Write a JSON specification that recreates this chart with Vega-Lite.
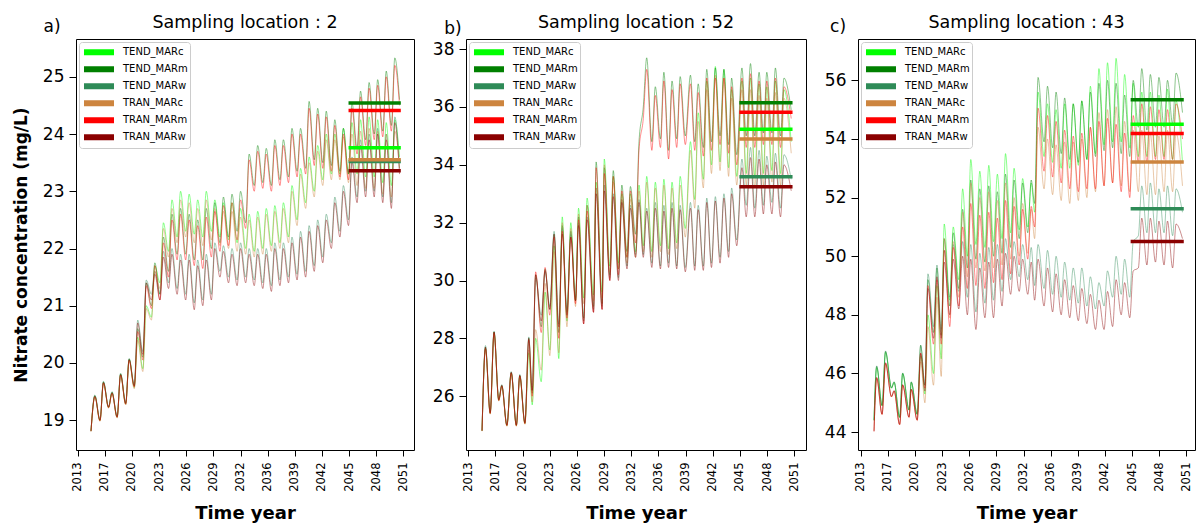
{
"$schema": "https://vega.github.io/schema/vega-lite/v6.json",
"padding": {"left": 11, "top": 13, "right": 0, "bottom": 0},
"bounds": "flush",
"config": {
 "font": "DejaVu Sans",
 "view": {"stroke": "#000", "strokeWidth": 1},
 "axis": {"grid": false, "domain": false, "tickColor": "#000", "labelColor": "#000", "titleColor": "#000", "tickWidth": 1, "labelFlush": false},
 "axisX": {"labelFontSize": 11.5, "labelAngle": -90, "tickSize": 6, "labelPadding": 6, "titleFontSize": 18, "titleFontWeight": "bold", "titlePadding": 13, "labelOverlap": false},
 "axisY": {"labelFontSize": 17, "tickSize": 7, "labelPadding": 5, "titleFontSize": 17, "titleFontWeight": "bold", "titlePadding": 12, "format": "d"},
 "legend": {"orient": "top-left", "offset": 3, "padding": 2, "fillColor": "#ffffff", "strokeColor": "#cccccc", "cornerRadius": 3, "symbolType": "stroke", "symbolSize": 900, "symbolStrokeWidth": 6, "symbolOpacity": 1, "clipHeight": 16.5, "labelFontSize": 10, "labelOffset": 6, "rowPadding": 0, "labelColor": "#000"}
},
"datasets": {
"pa": [
{"t":2014.55,"TEND_MARc":18.81,"TEND_MARm":18.81,"TEND_MARw":18.82,"TRAN_MARc":18.8,"TRAN_MARm":18.81,"TRAN_MARw":18.81},
{"t":2015.0,"TEND_MARc":19.42,"TEND_MARm":19.43,"TEND_MARw":19.44,"TRAN_MARc":19.4,"TRAN_MARm":19.41,"TRAN_MARw":19.42},
{"t":2015.6,"TEND_MARc":18.99,"TEND_MARm":19.0,"TEND_MARw":19.01,"TRAN_MARc":18.98,"TRAN_MARm":18.99,"TRAN_MARw":19.0},
{"t":2016.0,"TEND_MARc":19.66,"TEND_MARm":19.67,"TEND_MARw":19.68,"TRAN_MARc":19.64,"TRAN_MARm":19.65,"TRAN_MARw":19.66},
{"t":2016.6,"TEND_MARc":19.22,"TEND_MARm":19.23,"TEND_MARw":19.24,"TRAN_MARc":19.21,"TRAN_MARm":19.22,"TRAN_MARw":19.23},
{"t":2017.0,"TEND_MARc":19.48,"TEND_MARm":19.49,"TEND_MARw":19.5,"TRAN_MARc":19.46,"TRAN_MARm":19.47,"TRAN_MARw":19.48},
{"t":2017.6,"TEND_MARc":19.05,"TEND_MARm":19.06,"TEND_MARw":19.07,"TRAN_MARc":19.04,"TRAN_MARm":19.05,"TRAN_MARw":19.06},
{"t":2018.0,"TEND_MARc":19.8,"TEND_MARm":19.81,"TEND_MARw":19.82,"TRAN_MARc":19.78,"TRAN_MARm":19.79,"TRAN_MARw":19.8},
{"t":2018.6,"TEND_MARc":19.28,"TEND_MARm":19.3,"TEND_MARw":19.31,"TRAN_MARc":19.27,"TRAN_MARm":19.28,"TRAN_MARw":19.29},
{"t":2019.0,"TEND_MARc":20.06,"TEND_MARm":20.07,"TEND_MARw":20.08,"TRAN_MARc":20.03,"TRAN_MARm":20.05,"TRAN_MARw":20.06},
{"t":2019.6,"TEND_MARc":19.57,"TEND_MARm":19.6,"TEND_MARw":19.62,"TRAN_MARc":19.55,"TRAN_MARm":19.58,"TRAN_MARw":19.6},
{"t":2020.0,"TEND_MARc":20.45,"TEND_MARm":20.6,"TEND_MARw":20.75,"TRAN_MARc":20.4,"TRAN_MARm":20.55,"TRAN_MARw":20.7},
{"t":2020.6,"TEND_MARc":19.9,"TEND_MARm":20.1,"TEND_MARw":20.2,"TRAN_MARc":19.85,"TRAN_MARm":20.05,"TRAN_MARw":20.15},
{"t":2021.0,"TEND_MARc":21.0,"TEND_MARm":21.4,"TEND_MARw":21.45,"TRAN_MARc":20.95,"TRAN_MARm":21.35,"TRAN_MARw":21.4},
{"t":2021.6,"TEND_MARc":20.8,"TEND_MARm":21.0,"TEND_MARw":21.2,"TRAN_MARc":20.75,"TRAN_MARm":20.95,"TRAN_MARw":21.1},
{"t":2022.0,"TEND_MARc":21.7,"TEND_MARm":21.75,"TEND_MARw":21.6,"TRAN_MARc":21.6,"TRAN_MARm":21.7,"TRAN_MARw":21.55},
{"t":2022.6,"TEND_MARc":21.4,"TEND_MARm":21.2,"TEND_MARw":21.2,"TRAN_MARc":21.3,"TRAN_MARm":21.1,"TRAN_MARw":21.1},
{"t":2023.0,"TEND_MARc":22.45,"TEND_MARm":22.2,"TEND_MARw":21.95,"TRAN_MARc":22.35,"TRAN_MARm":22.1,"TRAN_MARw":21.85},
{"t":2023.6,"TEND_MARc":21.95,"TEND_MARm":21.6,"TEND_MARw":21.4,"TRAN_MARc":21.85,"TRAN_MARm":21.5,"TRAN_MARw":21.3},
{"t":2024.0,"TEND_MARc":22.85,"TEND_MARm":22.6,"TEND_MARw":22.0,"TRAN_MARc":22.7,"TRAN_MARm":22.5,"TRAN_MARw":21.9},
{"t":2024.6,"TEND_MARc":22.2,"TEND_MARm":21.9,"TEND_MARw":21.3,"TRAN_MARc":22.1,"TRAN_MARm":21.8,"TRAN_MARw":21.2},
{"t":2025.0,"TEND_MARc":23.0,"TEND_MARm":22.7,"TEND_MARw":21.9,"TRAN_MARc":22.85,"TRAN_MARm":22.6,"TRAN_MARw":21.8},
{"t":2025.6,"TEND_MARc":22.3,"TEND_MARm":21.9,"TEND_MARw":21.2,"TRAN_MARc":22.2,"TRAN_MARm":21.8,"TRAN_MARw":21.1},
{"t":2026.0,"TEND_MARc":22.95,"TEND_MARm":22.6,"TEND_MARw":21.9,"TRAN_MARc":22.8,"TRAN_MARm":22.5,"TRAN_MARw":21.8},
{"t":2026.6,"TEND_MARc":22.25,"TEND_MARm":21.8,"TEND_MARw":21.05,"TRAN_MARc":22.1,"TRAN_MARm":21.7,"TRAN_MARw":20.93},
{"t":2027.0,"TEND_MARc":22.85,"TEND_MARm":22.5,"TEND_MARw":21.8,"TRAN_MARc":22.7,"TRAN_MARm":22.4,"TRAN_MARw":21.7},
{"t":2027.6,"TEND_MARc":22.2,"TEND_MARm":21.8,"TEND_MARw":21.1,"TRAN_MARc":22.05,"TRAN_MARm":21.65,"TRAN_MARw":21.0},
{"t":2028.0,"TEND_MARc":23.0,"TEND_MARm":22.7,"TEND_MARw":21.9,"TRAN_MARc":22.85,"TRAN_MARm":22.55,"TRAN_MARw":21.8},
{"t":2028.6,"TEND_MARc":22.3,"TEND_MARm":22.0,"TEND_MARw":21.2,"TRAN_MARc":22.15,"TRAN_MARm":21.85,"TRAN_MARw":21.1},
{"t":2029.0,"TEND_MARc":22.85,"TEND_MARm":22.8,"TEND_MARw":22.1,"TRAN_MARc":22.7,"TRAN_MARm":22.65,"TRAN_MARw":22.0},
{"t":2029.6,"TEND_MARc":22.2,"TEND_MARm":22.1,"TEND_MARw":21.6,"TRAN_MARc":22.05,"TRAN_MARm":21.95,"TRAN_MARw":21.5},
{"t":2030.0,"TEND_MARc":22.8,"TEND_MARm":22.9,"TEND_MARw":22.05,"TRAN_MARc":22.65,"TRAN_MARm":22.75,"TRAN_MARw":21.95},
{"t":2030.6,"TEND_MARc":22.15,"TEND_MARm":22.2,"TEND_MARw":21.5,"TRAN_MARc":22.0,"TRAN_MARm":22.05,"TRAN_MARw":21.4},
{"t":2031.0,"TEND_MARc":22.8,"TEND_MARm":22.95,"TEND_MARw":22.0,"TRAN_MARc":22.65,"TRAN_MARm":22.8,"TRAN_MARw":21.9},
{"t":2031.6,"TEND_MARc":22.1,"TEND_MARm":22.3,"TEND_MARw":21.45,"TRAN_MARc":21.95,"TRAN_MARm":22.15,"TRAN_MARw":21.35},
{"t":2032.0,"TEND_MARc":22.7,"TEND_MARm":23.0,"TEND_MARw":22.1,"TRAN_MARc":22.55,"TRAN_MARm":22.85,"TRAN_MARw":22.0},
{"t":2032.6,"TEND_MARc":22.0,"TEND_MARm":22.45,"TEND_MARw":21.5,"TRAN_MARc":21.9,"TRAN_MARm":22.35,"TRAN_MARw":21.4},
{"t":2033.0,"TEND_MARc":22.6,"TEND_MARm":23.65,"TEND_MARw":22.0,"TRAN_MARc":22.5,"TRAN_MARm":23.55,"TRAN_MARw":21.9},
{"t":2033.6,"TEND_MARc":21.95,"TEND_MARm":23.1,"TEND_MARw":21.45,"TRAN_MARc":21.85,"TRAN_MARm":23.0,"TRAN_MARw":21.35},
{"t":2034.0,"TEND_MARc":22.65,"TEND_MARm":23.8,"TEND_MARw":22.0,"TRAN_MARc":22.55,"TRAN_MARm":23.7,"TRAN_MARw":21.9},
{"t":2034.6,"TEND_MARc":22.0,"TEND_MARm":23.15,"TEND_MARw":21.4,"TRAN_MARc":21.9,"TRAN_MARm":23.05,"TRAN_MARw":21.3},
{"t":2035.0,"TEND_MARc":22.7,"TEND_MARm":23.75,"TEND_MARw":22.0,"TRAN_MARc":22.6,"TRAN_MARm":23.65,"TRAN_MARw":21.9},
{"t":2035.6,"TEND_MARc":22.05,"TEND_MARm":23.1,"TEND_MARw":21.35,"TRAN_MARc":21.95,"TRAN_MARm":23.0,"TRAN_MARw":21.25},
{"t":2036.0,"TEND_MARc":22.75,"TEND_MARm":23.9,"TEND_MARw":22.1,"TRAN_MARc":22.65,"TRAN_MARm":23.8,"TRAN_MARw":22.0},
{"t":2036.6,"TEND_MARc":22.1,"TEND_MARm":23.2,"TEND_MARw":21.45,"TRAN_MARc":22.0,"TRAN_MARm":23.1,"TRAN_MARw":21.35},
{"t":2037.0,"TEND_MARc":22.8,"TEND_MARm":23.9,"TEND_MARw":22.1,"TRAN_MARc":22.7,"TRAN_MARm":23.8,"TRAN_MARw":22.0},
{"t":2037.6,"TEND_MARc":22.2,"TEND_MARm":23.25,"TEND_MARw":21.5,"TRAN_MARc":22.1,"TRAN_MARm":23.15,"TRAN_MARw":21.4},
{"t":2038.0,"TEND_MARc":23.1,"TEND_MARm":24.1,"TEND_MARw":22.2,"TRAN_MARc":23.0,"TRAN_MARm":24.0,"TRAN_MARw":22.1},
{"t":2038.6,"TEND_MARc":22.5,"TEND_MARm":23.35,"TEND_MARw":21.55,"TRAN_MARc":22.4,"TRAN_MARm":23.25,"TRAN_MARw":21.45},
{"t":2039.0,"TEND_MARc":23.4,"TEND_MARm":24.1,"TEND_MARw":22.3,"TRAN_MARc":23.3,"TRAN_MARm":24.0,"TRAN_MARw":22.2},
{"t":2039.6,"TEND_MARc":22.8,"TEND_MARm":23.4,"TEND_MARw":21.6,"TRAN_MARc":22.7,"TRAN_MARm":23.3,"TRAN_MARw":21.5},
{"t":2040.0,"TEND_MARc":23.6,"TEND_MARm":24.57,"TEND_MARw":22.4,"TRAN_MARc":23.5,"TRAN_MARm":24.45,"TRAN_MARw":22.3},
{"t":2040.6,"TEND_MARc":23.0,"TEND_MARm":23.55,"TEND_MARw":21.7,"TRAN_MARc":22.9,"TRAN_MARm":23.45,"TRAN_MARw":21.6},
{"t":2041.0,"TEND_MARc":23.8,"TEND_MARm":24.45,"TEND_MARw":22.5,"TRAN_MARc":23.7,"TRAN_MARm":24.35,"TRAN_MARw":22.4},
{"t":2041.6,"TEND_MARc":23.2,"TEND_MARm":23.5,"TEND_MARw":21.85,"TRAN_MARc":23.1,"TRAN_MARm":23.4,"TRAN_MARw":21.75},
{"t":2042.0,"TEND_MARc":24.0,"TEND_MARm":24.4,"TEND_MARw":22.6,"TRAN_MARc":23.9,"TRAN_MARm":24.3,"TRAN_MARw":22.5},
{"t":2042.6,"TEND_MARc":23.3,"TEND_MARm":23.45,"TEND_MARw":22.1,"TRAN_MARc":23.2,"TRAN_MARm":23.35,"TRAN_MARw":22.0},
{"t":2043.0,"TEND_MARc":24.0,"TEND_MARm":24.25,"TEND_MARw":22.9,"TRAN_MARc":23.9,"TRAN_MARm":24.15,"TRAN_MARw":22.8},
{"t":2043.6,"TEND_MARc":23.3,"TEND_MARm":23.35,"TEND_MARw":22.3,"TRAN_MARc":23.2,"TRAN_MARm":23.25,"TRAN_MARw":22.2},
{"t":2044.0,"TEND_MARc":24.1,"TEND_MARm":24.1,"TEND_MARw":23.1,"TRAN_MARc":23.95,"TRAN_MARm":24.0,"TRAN_MARw":23.0},
{"t":2044.6,"TEND_MARc":23.3,"TEND_MARm":23.3,"TEND_MARw":22.5,"TRAN_MARc":23.15,"TRAN_MARm":23.2,"TRAN_MARw":22.4},
{"t":2045.0,"TEND_MARc":24.2,"TEND_MARm":24.55,"TEND_MARw":23.6,"TRAN_MARc":24.0,"TRAN_MARm":24.45,"TRAN_MARw":23.5},
{"t":2045.6,"TEND_MARc":23.3,"TEND_MARm":23.75,"TEND_MARw":22.9,"TRAN_MARc":23.1,"TRAN_MARm":23.65,"TRAN_MARw":22.8},
{"t":2046.0,"TEND_MARc":24.25,"TEND_MARm":24.75,"TEND_MARw":23.9,"TRAN_MARc":24.05,"TRAN_MARm":24.65,"TRAN_MARw":23.8},
{"t":2046.6,"TEND_MARc":23.25,"TEND_MARm":23.9,"TEND_MARw":23.0,"TRAN_MARc":23.05,"TRAN_MARm":23.8,"TRAN_MARw":22.9},
{"t":2047.0,"TEND_MARc":24.3,"TEND_MARm":24.9,"TEND_MARw":24.0,"TRAN_MARc":24.1,"TRAN_MARm":24.8,"TRAN_MARw":23.9},
{"t":2047.6,"TEND_MARc":23.25,"TEND_MARm":24.0,"TEND_MARw":23.0,"TRAN_MARc":23.05,"TRAN_MARm":23.9,"TRAN_MARw":22.9},
{"t":2048.0,"TEND_MARc":24.25,"TEND_MARm":24.95,"TEND_MARw":24.1,"TRAN_MARc":24.05,"TRAN_MARm":24.85,"TRAN_MARw":24.0},
{"t":2048.6,"TEND_MARc":23.15,"TEND_MARm":24.05,"TEND_MARw":22.9,"TRAN_MARc":22.95,"TRAN_MARm":23.95,"TRAN_MARw":22.8},
{"t":2049.0,"TEND_MARc":24.2,"TEND_MARm":25.1,"TEND_MARw":24.0,"TRAN_MARc":24.0,"TRAN_MARm":25.0,"TRAN_MARw":23.9},
{"t":2049.6,"TEND_MARc":23.1,"TEND_MARm":24.15,"TEND_MARw":22.8,"TRAN_MARc":22.9,"TRAN_MARm":24.05,"TRAN_MARw":22.7},
{"t":2050.0,"TEND_MARc":24.25,"TEND_MARm":25.33,"TEND_MARw":24.3,"TRAN_MARc":24.05,"TRAN_MARm":25.2,"TRAN_MARw":24.2},
{"t":2050.55,"TEND_MARc":23.6,"TEND_MARm":24.6,"TEND_MARw":23.4,"TRAN_MARc":23.4,"TRAN_MARm":24.5,"TRAN_MARw":23.3}
],
"pb": [
{"t":2014.6,"TEND_MARc":24.8,"TEND_MARm":24.8,"TEND_MARw":24.82,"TRAN_MARc":24.79,"TRAN_MARm":24.8,"TRAN_MARw":24.81},
{"t":2015.0,"TEND_MARc":27.65,"TEND_MARm":27.7,"TEND_MARw":27.75,"TRAN_MARc":27.6,"TRAN_MARm":27.65,"TRAN_MARw":27.7},
{"t":2015.55,"TEND_MARc":25.4,"TEND_MARm":25.42,"TEND_MARw":25.45,"TRAN_MARc":25.38,"TRAN_MARm":25.4,"TRAN_MARw":25.43},
{"t":2016.0,"TEND_MARc":28.2,"TEND_MARm":28.22,"TEND_MARw":28.25,"TRAN_MARc":28.15,"TRAN_MARm":28.2,"TRAN_MARw":28.22},
{"t":2016.55,"TEND_MARc":25.85,"TEND_MARm":25.87,"TEND_MARw":25.9,"TRAN_MARc":25.83,"TRAN_MARm":25.85,"TRAN_MARw":25.88},
{"t":2016.9,"TEND_MARc":26.35,"TEND_MARm":26.37,"TEND_MARw":26.4,"TRAN_MARc":26.33,"TRAN_MARm":26.35,"TRAN_MARw":26.38},
{"t":2017.5,"TEND_MARc":24.98,"TEND_MARm":25.0,"TEND_MARw":25.02,"TRAN_MARc":24.96,"TRAN_MARm":24.98,"TRAN_MARw":25.0},
{"t":2018.0,"TEND_MARc":26.8,"TEND_MARm":26.82,"TEND_MARw":26.85,"TRAN_MARc":26.78,"TRAN_MARm":26.8,"TRAN_MARw":26.83},
{"t":2018.6,"TEND_MARc":24.98,"TEND_MARm":25.0,"TEND_MARw":25.02,"TRAN_MARc":24.96,"TRAN_MARm":24.98,"TRAN_MARw":25.0},
{"t":2019.0,"TEND_MARc":26.7,"TEND_MARm":26.72,"TEND_MARw":26.75,"TRAN_MARc":26.68,"TRAN_MARm":26.7,"TRAN_MARw":26.72},
{"t":2019.6,"TEND_MARc":25.05,"TEND_MARm":25.07,"TEND_MARw":25.1,"TRAN_MARc":25.03,"TRAN_MARm":25.05,"TRAN_MARw":25.08},
{"t":2020.05,"TEND_MARc":27.5,"TEND_MARm":28.0,"TEND_MARw":28.05,"TRAN_MARc":27.6,"TRAN_MARm":27.95,"TRAN_MARw":28.0},
{"t":2020.45,"TEND_MARc":25.7,"TEND_MARm":26.1,"TEND_MARw":26.2,"TRAN_MARc":25.8,"TRAN_MARm":26.0,"TRAN_MARw":26.2},
{"t":2020.85,"TEND_MARc":28.0,"TEND_MARm":30.2,"TEND_MARw":30.1,"TRAN_MARc":28.3,"TRAN_MARm":30.3,"TRAN_MARw":30.2},
{"t":2021.5,"TEND_MARc":26.5,"TEND_MARm":28.4,"TEND_MARw":28.8,"TRAN_MARc":26.9,"TRAN_MARm":28.2,"TRAN_MARw":28.6},
{"t":2021.95,"TEND_MARc":29.6,"TEND_MARm":30.4,"TEND_MARw":30.3,"TRAN_MARc":29.9,"TRAN_MARm":30.45,"TRAN_MARw":30.35},
{"t":2022.5,"TEND_MARc":27.6,"TEND_MARm":29.0,"TEND_MARw":29.1,"TRAN_MARc":27.4,"TRAN_MARm":28.8,"TRAN_MARw":29.0},
{"t":2023.0,"TEND_MARc":31.2,"TEND_MARm":31.6,"TEND_MARw":31.7,"TRAN_MARc":31.0,"TRAN_MARm":31.5,"TRAN_MARw":31.6},
{"t":2023.55,"TEND_MARc":27.3,"TEND_MARm":28.2,"TEND_MARw":28.5,"TRAN_MARc":27.5,"TRAN_MARm":28.0,"TRAN_MARw":28.4},
{"t":2023.95,"TEND_MARc":32.2,"TEND_MARm":31.9,"TEND_MARw":31.8,"TRAN_MARc":32.0,"TRAN_MARm":31.7,"TRAN_MARw":31.6},
{"t":2024.5,"TEND_MARc":28.6,"TEND_MARm":28.9,"TEND_MARw":29.0,"TRAN_MARc":28.4,"TRAN_MARm":28.7,"TRAN_MARw":28.8},
{"t":2024.95,"TEND_MARc":32.0,"TEND_MARm":31.7,"TEND_MARw":31.6,"TRAN_MARc":31.8,"TRAN_MARm":31.5,"TRAN_MARw":31.5},
{"t":2025.5,"TEND_MARc":29.3,"TEND_MARm":29.3,"TEND_MARw":29.4,"TRAN_MARc":29.1,"TRAN_MARm":29.2,"TRAN_MARw":29.3},
{"t":2025.85,"TEND_MARc":32.5,"TEND_MARm":32.2,"TEND_MARw":32.0,"TRAN_MARc":32.3,"TRAN_MARm":32.1,"TRAN_MARw":31.9},
{"t":2026.45,"TEND_MARc":29.4,"TEND_MARm":28.7,"TEND_MARw":28.6,"TRAN_MARc":29.2,"TRAN_MARm":28.5,"TRAN_MARw":28.5},
{"t":2026.85,"TEND_MARc":32.85,"TEND_MARm":32.6,"TEND_MARw":32.2,"TRAN_MARc":32.6,"TRAN_MARm":32.4,"TRAN_MARw":32.1},
{"t":2027.6,"TEND_MARc":29.5,"TEND_MARm":29.1,"TEND_MARw":29.0,"TRAN_MARc":29.3,"TRAN_MARm":28.9,"TRAN_MARw":28.9},
{"t":2027.9,"TEND_MARc":33.4,"TEND_MARm":34.1,"TEND_MARw":33.2,"TRAN_MARc":33.2,"TRAN_MARm":33.9,"TRAN_MARw":33.0},
{"t":2028.6,"TEND_MARc":29.6,"TEND_MARm":29.2,"TEND_MARw":29.1,"TRAN_MARc":29.4,"TRAN_MARm":29.0,"TRAN_MARw":29.0},
{"t":2028.85,"TEND_MARc":34.2,"TEND_MARm":33.9,"TEND_MARw":33.3,"TRAN_MARc":34.0,"TRAN_MARm":33.7,"TRAN_MARw":33.1},
{"t":2029.5,"TEND_MARc":30.5,"TEND_MARm":30.2,"TEND_MARw":30.1,"TRAN_MARc":30.3,"TRAN_MARm":30.0,"TRAN_MARw":30.0},
{"t":2029.9,"TEND_MARc":33.6,"TEND_MARm":33.8,"TEND_MARw":33.0,"TRAN_MARc":33.4,"TRAN_MARm":33.6,"TRAN_MARw":32.9},
{"t":2030.5,"TEND_MARc":30.6,"TEND_MARm":30.4,"TEND_MARw":30.1,"TRAN_MARc":30.4,"TRAN_MARm":30.2,"TRAN_MARw":30.0},
{"t":2030.9,"TEND_MARc":33.0,"TEND_MARm":33.3,"TEND_MARw":32.8,"TRAN_MARc":32.8,"TRAN_MARm":33.1,"TRAN_MARw":32.7},
{"t":2031.5,"TEND_MARc":30.8,"TEND_MARm":31.0,"TEND_MARw":30.5,"TRAN_MARc":30.6,"TRAN_MARm":30.8,"TRAN_MARw":30.4},
{"t":2031.9,"TEND_MARc":33.0,"TEND_MARm":33.25,"TEND_MARw":32.6,"TRAN_MARc":32.8,"TRAN_MARm":33.1,"TRAN_MARw":32.5},
{"t":2032.5,"TEND_MARc":31.0,"TEND_MARm":31.6,"TEND_MARw":30.9,"TRAN_MARc":30.8,"TRAN_MARm":31.3,"TRAN_MARw":30.8},
{"t":2032.9,"TEND_MARc":33.3,"TEND_MARm":34.8,"TEND_MARw":32.8,"TRAN_MARc":33.1,"TRAN_MARm":34.5,"TRAN_MARw":32.7},
{"t":2033.4,"TEND_MARc":31.2,"TEND_MARm":36.0,"TEND_MARw":30.9,"TRAN_MARc":31.0,"TRAN_MARm":35.6,"TRAN_MARw":30.8},
{"t":2033.8,"TEND_MARc":33.6,"TEND_MARm":37.7,"TEND_MARw":32.5,"TRAN_MARc":33.4,"TRAN_MARm":37.3,"TRAN_MARw":32.4},
{"t":2034.4,"TEND_MARc":31.0,"TEND_MARm":34.8,"TEND_MARw":30.6,"TRAN_MARc":30.8,"TRAN_MARm":34.5,"TRAN_MARw":30.45},
{"t":2034.8,"TEND_MARc":33.4,"TEND_MARm":36.7,"TEND_MARw":32.7,"TRAN_MARc":33.2,"TRAN_MARm":36.4,"TRAN_MARw":32.5},
{"t":2035.4,"TEND_MARc":31.2,"TEND_MARm":34.9,"TEND_MARw":30.5,"TRAN_MARc":31.0,"TRAN_MARm":34.6,"TRAN_MARw":30.4},
{"t":2035.8,"TEND_MARc":33.5,"TEND_MARm":37.2,"TEND_MARw":32.6,"TRAN_MARc":33.3,"TRAN_MARm":36.9,"TRAN_MARw":32.4},
{"t":2036.35,"TEND_MARc":31.1,"TEND_MARm":34.5,"TEND_MARw":30.6,"TRAN_MARc":30.9,"TRAN_MARm":34.2,"TRAN_MARw":30.45},
{"t":2036.75,"TEND_MARc":33.4,"TEND_MARm":36.9,"TEND_MARw":32.7,"TRAN_MARc":33.2,"TRAN_MARm":36.6,"TRAN_MARw":32.5},
{"t":2037.3,"TEND_MARc":31.3,"TEND_MARm":34.9,"TEND_MARw":30.5,"TRAN_MARc":31.1,"TRAN_MARm":34.6,"TRAN_MARw":30.4},
{"t":2037.7,"TEND_MARc":33.6,"TEND_MARm":37.05,"TEND_MARw":32.6,"TRAN_MARc":33.3,"TRAN_MARm":36.8,"TRAN_MARw":32.45},
{"t":2038.3,"TEND_MARc":31.8,"TEND_MARm":35.0,"TEND_MARw":30.45,"TRAN_MARc":31.5,"TRAN_MARm":34.7,"TRAN_MARw":30.3},
{"t":2038.9,"TEND_MARc":34.8,"TEND_MARm":37.1,"TEND_MARw":32.7,"TRAN_MARc":34.5,"TRAN_MARm":36.8,"TRAN_MARw":32.5},
{"t":2039.4,"TEND_MARc":32.8,"TEND_MARm":34.8,"TEND_MARw":30.5,"TRAN_MARc":32.5,"TRAN_MARm":34.5,"TRAN_MARw":30.35},
{"t":2039.8,"TEND_MARc":35.8,"TEND_MARm":36.8,"TEND_MARw":32.6,"TRAN_MARc":35.5,"TRAN_MARm":36.5,"TRAN_MARw":32.45},
{"t":2040.4,"TEND_MARc":33.5,"TEND_MARm":34.6,"TEND_MARw":30.5,"TRAN_MARc":33.2,"TRAN_MARm":34.3,"TRAN_MARw":30.35},
{"t":2040.8,"TEND_MARc":36.9,"TEND_MARm":37.3,"TEND_MARw":32.85,"TRAN_MARc":36.6,"TRAN_MARm":37.0,"TRAN_MARw":32.7},
{"t":2041.35,"TEND_MARc":34.0,"TEND_MARm":34.8,"TEND_MARw":30.6,"TRAN_MARc":33.7,"TRAN_MARm":34.5,"TRAN_MARw":30.45},
{"t":2041.8,"TEND_MARc":37.4,"TEND_MARm":37.35,"TEND_MARw":32.9,"TRAN_MARc":37.1,"TRAN_MARm":37.0,"TRAN_MARw":32.75},
{"t":2042.35,"TEND_MARc":34.1,"TEND_MARm":35.0,"TEND_MARw":30.8,"TRAN_MARc":33.8,"TRAN_MARm":34.7,"TRAN_MARw":30.6},
{"t":2042.8,"TEND_MARc":37.3,"TEND_MARm":37.3,"TEND_MARw":33.0,"TRAN_MARc":37.0,"TRAN_MARm":37.0,"TRAN_MARw":32.85},
{"t":2043.35,"TEND_MARc":33.9,"TEND_MARm":34.7,"TEND_MARw":31.0,"TRAN_MARc":33.6,"TRAN_MARm":34.4,"TRAN_MARw":30.8},
{"t":2043.7,"TEND_MARc":36.6,"TEND_MARm":37.0,"TEND_MARw":33.2,"TRAN_MARc":36.3,"TRAN_MARm":36.7,"TRAN_MARw":33.0},
{"t":2044.3,"TEND_MARc":33.6,"TEND_MARm":34.35,"TEND_MARw":31.4,"TRAN_MARc":33.3,"TRAN_MARm":34.0,"TRAN_MARw":31.2},
{"t":2044.9,"TEND_MARc":36.9,"TEND_MARm":37.35,"TEND_MARw":34.2,"TRAN_MARc":36.6,"TRAN_MARm":37.0,"TRAN_MARw":33.9},
{"t":2045.4,"TEND_MARc":33.7,"TEND_MARm":35.0,"TEND_MARw":32.6,"TRAN_MARc":33.3,"TRAN_MARm":34.6,"TRAN_MARw":32.2},
{"t":2045.9,"TEND_MARc":37.0,"TEND_MARm":37.5,"TEND_MARw":34.6,"TRAN_MARc":36.6,"TRAN_MARm":37.15,"TRAN_MARw":34.25},
{"t":2046.4,"TEND_MARc":33.6,"TEND_MARm":35.0,"TEND_MARw":32.5,"TRAN_MARc":33.2,"TRAN_MARm":34.6,"TRAN_MARw":32.2},
{"t":2046.9,"TEND_MARc":36.8,"TEND_MARm":37.2,"TEND_MARw":34.5,"TRAN_MARc":36.4,"TRAN_MARm":36.9,"TRAN_MARw":34.2},
{"t":2047.4,"TEND_MARc":33.7,"TEND_MARm":35.1,"TEND_MARw":32.6,"TRAN_MARc":33.3,"TRAN_MARm":34.7,"TRAN_MARw":32.3},
{"t":2047.8,"TEND_MARc":36.7,"TEND_MARm":37.2,"TEND_MARw":34.3,"TRAN_MARc":36.3,"TRAN_MARm":36.9,"TRAN_MARw":34.0},
{"t":2048.4,"TEND_MARc":33.8,"TEND_MARm":35.1,"TEND_MARw":32.7,"TRAN_MARc":33.4,"TRAN_MARm":34.7,"TRAN_MARw":32.3},
{"t":2048.8,"TEND_MARc":36.9,"TEND_MARm":37.35,"TEND_MARw":34.4,"TRAN_MARc":36.5,"TRAN_MARm":37.0,"TRAN_MARw":34.1},
{"t":2049.4,"TEND_MARc":33.7,"TEND_MARm":35.0,"TEND_MARw":32.5,"TRAN_MARc":33.3,"TRAN_MARm":34.6,"TRAN_MARw":32.2},
{"t":2049.8,"TEND_MARc":36.6,"TEND_MARm":37.0,"TEND_MARw":34.35,"TRAN_MARc":36.3,"TRAN_MARm":36.7,"TRAN_MARw":34.0},
{"t":2050.65,"TEND_MARc":34.8,"TEND_MARm":35.9,"TEND_MARw":33.5,"TRAN_MARc":34.4,"TRAN_MARm":35.6,"TRAN_MARw":33.1}
],
"pc": [
{"t":2014.56,"TEND_MARc":44.4,"TEND_MARm":44.4,"TEND_MARw":44.42,"TRAN_MARc":44.05,"TRAN_MARm":44.02,"TRAN_MARw":44.03},
{"t":2014.87,"TEND_MARc":46.2,"TEND_MARm":46.24,"TEND_MARw":46.26,"TRAN_MARc":45.82,"TRAN_MARm":45.85,"TRAN_MARw":45.87},
{"t":2015.5,"TEND_MARc":44.9,"TEND_MARm":44.9,"TEND_MARw":44.92,"TRAN_MARc":44.6,"TRAN_MARm":44.6,"TRAN_MARw":44.62},
{"t":2015.9,"TEND_MARc":46.72,"TEND_MARm":46.75,"TEND_MARw":46.77,"TRAN_MARc":46.33,"TRAN_MARm":46.35,"TRAN_MARw":46.37},
{"t":2016.6,"TEND_MARc":45.5,"TEND_MARm":45.5,"TEND_MARw":45.52,"TRAN_MARc":45.2,"TRAN_MARm":45.2,"TRAN_MARw":45.22},
{"t":2016.9,"TEND_MARc":45.7,"TEND_MARm":45.7,"TEND_MARw":45.72,"TRAN_MARc":45.4,"TRAN_MARm":45.4,"TRAN_MARw":45.42},
{"t":2017.55,"TEND_MARc":44.5,"TEND_MARm":44.5,"TEND_MARw":44.52,"TRAN_MARc":44.25,"TRAN_MARm":44.25,"TRAN_MARw":44.27},
{"t":2017.9,"TEND_MARc":46.0,"TEND_MARm":46.0,"TEND_MARw":46.02,"TRAN_MARc":45.6,"TRAN_MARm":45.6,"TRAN_MARw":45.62},
{"t":2018.65,"TEND_MARc":44.75,"TEND_MARm":44.75,"TEND_MARw":44.77,"TRAN_MARc":44.5,"TRAN_MARm":44.5,"TRAN_MARw":44.52},
{"t":2018.9,"TEND_MARc":45.7,"TEND_MARm":45.7,"TEND_MARw":45.72,"TRAN_MARc":45.45,"TRAN_MARm":45.45,"TRAN_MARw":45.47},
{"t":2019.6,"TEND_MARc":44.6,"TEND_MARm":44.6,"TEND_MARw":44.62,"TRAN_MARc":44.4,"TRAN_MARm":44.4,"TRAN_MARw":44.42},
{"t":2020.0,"TEND_MARc":46.6,"TEND_MARm":46.97,"TEND_MARw":46.95,"TRAN_MARc":46.4,"TRAN_MARm":46.7,"TRAN_MARw":46.68},
{"t":2020.5,"TEND_MARc":45.3,"TEND_MARm":45.6,"TEND_MARw":45.6,"TRAN_MARc":45.0,"TRAN_MARm":45.5,"TRAN_MARw":45.4},
{"t":2020.85,"TEND_MARc":48.0,"TEND_MARm":49.2,"TEND_MARw":49.4,"TRAN_MARc":47.6,"TRAN_MARm":49.0,"TRAN_MARw":48.9},
{"t":2021.5,"TEND_MARc":46.0,"TEND_MARm":47.4,"TEND_MARw":47.6,"TRAN_MARc":45.6,"TRAN_MARm":47.0,"TRAN_MARw":47.2},
{"t":2021.9,"TEND_MARc":49.0,"TEND_MARm":49.6,"TEND_MARw":49.7,"TRAN_MARc":48.6,"TRAN_MARm":49.2,"TRAN_MARw":49.3},
{"t":2022.4,"TEND_MARc":46.5,"TEND_MARm":47.3,"TEND_MARw":47.5,"TRAN_MARc":45.9,"TRAN_MARm":47.0,"TRAN_MARw":47.2},
{"t":2022.75,"TEND_MARc":51.1,"TEND_MARm":50.6,"TEND_MARw":50.2,"TRAN_MARc":50.6,"TRAN_MARm":50.2,"TRAN_MARw":49.8},
{"t":2023.4,"TEND_MARc":48.5,"TEND_MARm":48.3,"TEND_MARw":48.6,"TRAN_MARc":47.9,"TRAN_MARm":47.6,"TRAN_MARw":48.0},
{"t":2023.8,"TEND_MARc":51.0,"TEND_MARm":50.8,"TEND_MARw":50.4,"TRAN_MARc":50.5,"TRAN_MARm":50.3,"TRAN_MARw":49.9},
{"t":2024.45,"TEND_MARc":49.2,"TEND_MARm":48.9,"TEND_MARw":48.8,"TRAN_MARc":48.6,"TRAN_MARm":48.3,"TRAN_MARw":48.2},
{"t":2024.9,"TEND_MARc":52.3,"TEND_MARm":51.6,"TEND_MARw":50.5,"TRAN_MARc":51.5,"TRAN_MARm":51.0,"TRAN_MARw":50.0},
{"t":2025.45,"TEND_MARc":50.0,"TEND_MARm":49.6,"TEND_MARw":48.6,"TRAN_MARc":49.3,"TRAN_MARm":48.9,"TRAN_MARw":48.0},
{"t":2025.85,"TEND_MARc":53.3,"TEND_MARm":52.6,"TEND_MARw":50.4,"TRAN_MARc":52.5,"TRAN_MARm":51.8,"TRAN_MARw":49.9},
{"t":2026.45,"TEND_MARc":50.4,"TEND_MARm":49.9,"TEND_MARw":48.1,"TRAN_MARc":49.6,"TRAN_MARm":49.0,"TRAN_MARw":47.5},
{"t":2026.9,"TEND_MARc":52.9,"TEND_MARm":52.3,"TEND_MARw":50.1,"TRAN_MARc":52.0,"TRAN_MARm":51.4,"TRAN_MARw":49.6},
{"t":2027.5,"TEND_MARc":50.3,"TEND_MARm":49.8,"TEND_MARw":48.4,"TRAN_MARc":49.5,"TRAN_MARm":48.9,"TRAN_MARw":47.9},
{"t":2027.95,"TEND_MARc":53.1,"TEND_MARm":52.4,"TEND_MARw":50.3,"TRAN_MARc":52.2,"TRAN_MARm":51.5,"TRAN_MARw":49.8},
{"t":2028.5,"TEND_MARc":50.5,"TEND_MARm":50.0,"TEND_MARw":48.5,"TRAN_MARc":49.6,"TRAN_MARm":49.1,"TRAN_MARw":47.9},
{"t":2028.95,"TEND_MARc":52.8,"TEND_MARm":52.2,"TEND_MARw":50.4,"TRAN_MARc":51.9,"TRAN_MARm":51.3,"TRAN_MARw":49.9},
{"t":2029.5,"TEND_MARc":50.6,"TEND_MARm":50.1,"TEND_MARw":48.8,"TRAN_MARc":49.7,"TRAN_MARm":49.2,"TRAN_MARw":48.3},
{"t":2029.9,"TEND_MARc":53.5,"TEND_MARm":52.8,"TEND_MARw":50.6,"TRAN_MARc":52.5,"TRAN_MARm":51.9,"TRAN_MARw":50.1},
{"t":2030.5,"TEND_MARc":50.8,"TEND_MARm":50.3,"TEND_MARw":49.2,"TRAN_MARc":49.9,"TRAN_MARm":49.4,"TRAN_MARw":48.7},
{"t":2030.9,"TEND_MARc":53.0,"TEND_MARm":52.6,"TEND_MARw":50.5,"TRAN_MARc":52.0,"TRAN_MARm":51.7,"TRAN_MARw":50.0},
{"t":2031.5,"TEND_MARc":50.9,"TEND_MARm":50.6,"TEND_MARw":49.3,"TRAN_MARc":50.0,"TRAN_MARm":49.7,"TRAN_MARw":48.8},
{"t":2031.9,"TEND_MARc":52.65,"TEND_MARm":52.5,"TEND_MARw":50.4,"TRAN_MARc":51.8,"TRAN_MARm":51.6,"TRAN_MARw":49.9},
{"t":2032.5,"TEND_MARc":51.0,"TEND_MARm":50.8,"TEND_MARw":49.2,"TRAN_MARc":50.1,"TRAN_MARm":49.9,"TRAN_MARw":48.7},
{"t":2032.9,"TEND_MARc":52.5,"TEND_MARm":52.6,"TEND_MARw":50.3,"TRAN_MARc":51.6,"TRAN_MARm":51.7,"TRAN_MARw":49.8},
{"t":2033.3,"TEND_MARc":51.5,"TEND_MARm":51.8,"TEND_MARw":49.0,"TRAN_MARc":50.6,"TRAN_MARm":51.0,"TRAN_MARw":48.5},
{"t":2033.7,"TEND_MARc":55.6,"TEND_MARm":56.1,"TEND_MARw":50.4,"TRAN_MARc":54.4,"TRAN_MARm":55.05,"TRAN_MARw":49.9},
{"t":2034.4,"TEND_MARc":53.4,"TEND_MARm":53.9,"TEND_MARw":48.9,"TRAN_MARc":52.3,"TRAN_MARm":52.9,"TRAN_MARw":48.3},
{"t":2034.8,"TEND_MARc":55.2,"TEND_MARm":55.8,"TEND_MARw":50.2,"TRAN_MARc":54.0,"TRAN_MARm":54.8,"TRAN_MARw":49.6},
{"t":2035.4,"TEND_MARc":53.2,"TEND_MARm":53.7,"TEND_MARw":48.7,"TRAN_MARc":52.1,"TRAN_MARm":52.7,"TRAN_MARw":48.1},
{"t":2035.8,"TEND_MARc":55.0,"TEND_MARm":55.6,"TEND_MARw":50.0,"TRAN_MARc":53.8,"TRAN_MARm":54.6,"TRAN_MARw":49.4},
{"t":2036.4,"TEND_MARc":53.0,"TEND_MARm":53.5,"TEND_MARw":48.6,"TRAN_MARc":51.9,"TRAN_MARm":52.5,"TRAN_MARw":48.0},
{"t":2036.8,"TEND_MARc":55.2,"TEND_MARm":55.4,"TEND_MARw":49.8,"TRAN_MARc":53.9,"TRAN_MARm":54.3,"TRAN_MARw":49.2},
{"t":2037.4,"TEND_MARc":53.0,"TEND_MARm":53.3,"TEND_MARw":48.5,"TRAN_MARc":51.8,"TRAN_MARm":52.3,"TRAN_MARw":47.9},
{"t":2037.8,"TEND_MARc":55.2,"TEND_MARm":55.2,"TEND_MARw":49.6,"TRAN_MARc":53.9,"TRAN_MARm":54.1,"TRAN_MARw":49.0},
{"t":2038.4,"TEND_MARc":53.1,"TEND_MARm":53.2,"TEND_MARw":48.4,"TRAN_MARc":51.9,"TRAN_MARm":52.2,"TRAN_MARw":47.8},
{"t":2038.8,"TEND_MARc":55.3,"TEND_MARm":55.3,"TEND_MARw":49.6,"TRAN_MARc":54.0,"TRAN_MARm":54.2,"TRAN_MARw":48.9},
{"t":2039.4,"TEND_MARc":53.3,"TEND_MARm":53.3,"TEND_MARw":48.3,"TRAN_MARc":52.0,"TRAN_MARm":52.3,"TRAN_MARw":47.7},
{"t":2039.8,"TEND_MARc":55.8,"TEND_MARm":55.6,"TEND_MARw":49.3,"TRAN_MARc":54.4,"TRAN_MARm":54.4,"TRAN_MARw":48.7},
{"t":2040.4,"TEND_MARc":53.5,"TEND_MARm":53.4,"TEND_MARw":48.2,"TRAN_MARc":52.2,"TRAN_MARm":52.3,"TRAN_MARw":47.5},
{"t":2040.8,"TEND_MARc":56.4,"TEND_MARm":55.9,"TEND_MARw":49.1,"TRAN_MARc":54.9,"TRAN_MARm":54.6,"TRAN_MARw":48.5},
{"t":2041.4,"TEND_MARc":53.8,"TEND_MARm":53.6,"TEND_MARw":48.3,"TRAN_MARc":52.4,"TRAN_MARm":52.4,"TRAN_MARw":47.5},
{"t":2041.8,"TEND_MARc":56.6,"TEND_MARm":56.0,"TEND_MARw":49.5,"TRAN_MARc":55.0,"TRAN_MARm":54.7,"TRAN_MARw":48.8},
{"t":2042.4,"TEND_MARc":53.9,"TEND_MARm":53.7,"TEND_MARw":48.6,"TRAN_MARc":52.5,"TRAN_MARm":52.5,"TRAN_MARw":47.6},
{"t":2042.8,"TEND_MARc":56.75,"TEND_MARm":55.9,"TEND_MARw":50.0,"TRAN_MARc":55.1,"TRAN_MARm":54.5,"TRAN_MARw":49.2},
{"t":2043.4,"TEND_MARc":53.9,"TEND_MARm":53.5,"TEND_MARw":48.7,"TRAN_MARc":52.4,"TRAN_MARm":52.2,"TRAN_MARw":48.0},
{"t":2043.8,"TEND_MARc":56.2,"TEND_MARm":55.5,"TEND_MARw":49.9,"TRAN_MARc":54.6,"TRAN_MARm":54.2,"TRAN_MARw":49.1},
{"t":2044.4,"TEND_MARc":53.7,"TEND_MARm":53.4,"TEND_MARw":48.6,"TRAN_MARc":52.2,"TRAN_MARm":52.0,"TRAN_MARw":47.9},
{"t":2044.8,"TEND_MARc":55.9,"TEND_MARm":56.0,"TEND_MARw":50.5,"TRAN_MARc":54.3,"TRAN_MARm":54.8,"TRAN_MARw":49.5},
{"t":2045.4,"TEND_MARc":53.4,"TEND_MARm":54.4,"TEND_MARw":50.7,"TRAN_MARc":52.2,"TRAN_MARm":53.2,"TRAN_MARw":49.6},
{"t":2045.8,"TEND_MARc":55.6,"TEND_MARm":56.4,"TEND_MARw":52.4,"TRAN_MARc":54.3,"TRAN_MARm":55.2,"TRAN_MARw":51.3},
{"t":2046.4,"TEND_MARc":53.4,"TEND_MARm":54.3,"TEND_MARw":50.8,"TRAN_MARc":52.1,"TRAN_MARm":53.2,"TRAN_MARw":49.7},
{"t":2046.8,"TEND_MARc":55.6,"TEND_MARm":56.2,"TEND_MARw":52.5,"TRAN_MARc":54.2,"TRAN_MARm":55.1,"TRAN_MARw":51.3},
{"t":2047.4,"TEND_MARc":53.4,"TEND_MARm":54.4,"TEND_MARw":50.8,"TRAN_MARc":52.1,"TRAN_MARm":53.3,"TRAN_MARw":49.8},
{"t":2047.8,"TEND_MARc":55.5,"TEND_MARm":56.1,"TEND_MARw":52.3,"TRAN_MARc":54.1,"TRAN_MARm":55.0,"TRAN_MARw":51.2},
{"t":2048.4,"TEND_MARc":53.4,"TEND_MARm":54.4,"TEND_MARw":50.8,"TRAN_MARc":52.2,"TRAN_MARm":53.3,"TRAN_MARw":49.7},
{"t":2048.8,"TEND_MARc":55.7,"TEND_MARm":56.0,"TEND_MARw":52.4,"TRAN_MARc":54.3,"TRAN_MARm":55.0,"TRAN_MARw":51.2},
{"t":2049.4,"TEND_MARc":53.3,"TEND_MARm":54.5,"TEND_MARw":50.7,"TRAN_MARc":52.2,"TRAN_MARm":53.3,"TRAN_MARw":49.6},
{"t":2049.8,"TEND_MARc":55.3,"TEND_MARm":56.25,"TEND_MARw":52.3,"TRAN_MARc":54.2,"TRAN_MARm":55.2,"TRAN_MARw":51.1},
{"t":2050.55,"TEND_MARc":53.2,"TEND_MARm":54.9,"TEND_MARw":51.5,"TRAN_MARc":52.4,"TRAN_MARm":54.0,"TRAN_MARw":50.6}
],
"means": [
{"p":"a","s":"TEND_MARc","m":23.76,"x0":2044.6,"x1":2050.7},
{"p":"a","s":"TEND_MARm","m":24.54,"x0":2044.6,"x1":2050.7},
{"p":"a","s":"TEND_MARw","m":23.52,"x0":2044.6,"x1":2050.7},
{"p":"a","s":"TRAN_MARc","m":23.55,"x0":2044.6,"x1":2050.7},
{"p":"a","s":"TRAN_MARm","m":24.41,"x0":2044.6,"x1":2050.7},
{"p":"a","s":"TRAN_MARw","m":23.36,"x0":2044.6,"x1":2050.7},
{"p":"b","s":"TEND_MARc","m":35.23,"x0":2044.6,"x1":2050.8},
{"p":"b","s":"TEND_MARm","m":36.15,"x0":2044.6,"x1":2050.8},
{"p":"b","s":"TEND_MARw","m":33.59,"x0":2044.6,"x1":2050.8},
{"p":"b","s":"TRAN_MARc","m":34.89,"x0":2044.6,"x1":2050.8},
{"p":"b","s":"TRAN_MARm","m":35.82,"x0":2044.6,"x1":2050.8},
{"p":"b","s":"TRAN_MARw","m":33.24,"x0":2044.6,"x1":2050.8},
{"p":"c","s":"TEND_MARc","m":54.5,"x0":2044.5,"x1":2050.7},
{"p":"c","s":"TEND_MARm","m":55.34,"x0":2044.5,"x1":2050.7},
{"p":"c","s":"TEND_MARw","m":51.62,"x0":2044.5,"x1":2050.7},
{"p":"c","s":"TRAN_MARc","m":53.21,"x0":2044.5,"x1":2050.7},
{"p":"c","s":"TRAN_MARm","m":54.19,"x0":2044.5,"x1":2050.7},
{"p":"c","s":"TRAN_MARw","m":50.5,"x0":2044.5,"x1":2050.7}
]
},
"spacing": 52,
"resolve": {"scale": {"x": "independent", "y": "independent", "color": "independent"}, "legend": {"color": "independent"}},
"hconcat": [
{
 "width": 338, "height": 411,
 "layer": [
  {"data": {"name": "pa"},
   "transform": [{"fold": ["TEND_MARc","TEND_MARm","TEND_MARw","TRAN_MARc","TRAN_MARm","TRAN_MARw"], "as": ["series","value"]}],
   "mark": {"type": "line", "strokeWidth": 0.75, "opacity": 0.6, "interpolate": "monotone"},
   "encoding": {
    "x": {"field": "t", "type": "quantitative", "scale": {"domain": [2012.8, 2052.24], "nice": false, "zero": false}, "axis": {"values": [2013,2016.1667,2019.3333,2022.5,2025.6667,2028.8333,2032,2035.1667,2038.3333,2041.5,2044.6667,2047.8333,2051], "tickCount": 20, "labelExpr": "'' + ceil(datum.value - 0.01)", "labelOverlap": false}, "title": "Time year"},
    "y": {"field": "value", "type": "quantitative", "scale": {"domain": [18.48, 25.66], "nice": false, "zero": false}, "axis": {"values": [19,20,21,22,23,24,25], "tickCount": 10}, "title": "Nitrate concentration (mg/L)"},
    "color": {"field": "series", "type": "nominal", "scale": {"domain": ["TEND_MARc","TEND_MARm","TEND_MARw","TRAN_MARc","TRAN_MARm","TRAN_MARw"], "range": ["#00ff00","#008000","#2e8b57","#cd853f","#ff0000","#8b0000"]}, "legend": {"title": null}}
   }},
  {"data": {"name": "means"},
   "transform": [{"filter": "datum.p == 'a'"}],
   "mark": {"type": "rule", "strokeWidth": 3.5},
   "encoding": {
    "x": {"field": "x0", "type": "quantitative", "title": "Time year"},
    "x2": {"field": "x1"},
    "y": {"field": "m", "type": "quantitative", "title": "Nitrate concentration (mg/L)"},
    "color": {"field": "s", "type": "nominal", "title": null}
   }},
  {"data": {"values": [{"lab": "Sampling location : 2"}]},
   "mark": {"type": "text", "fontSize": 17.5, "align": "center", "baseline": "alphabetic", "color": "#000"},
   "encoding": {"text": {"field": "lab"}, "x": {"datum": 2032.52, "type": "quantitative"}, "y": {"datum": 25.847, "type": "quantitative"}}},
  {"data": {"values": [{"lab": "a)"}]},
   "mark": {"type": "text", "fontSize": 17, "align": "center", "baseline": "middle", "color": "#000"},
   "encoding": {"text": {"field": "lab"}, "x": {"datum": 2010.0, "type": "quantitative"}, "y": {"datum": 25.864, "type": "quantitative"}}}
 ]
},
{
 "width": 340, "height": 411,
 "layer": [
  {"data": {"name": "pb"},
   "transform": [{"fold": ["TEND_MARc","TEND_MARm","TEND_MARw","TRAN_MARc","TRAN_MARm","TRAN_MARw"], "as": ["series","value"]}],
   "mark": {"type": "line", "strokeWidth": 0.75, "opacity": 0.6, "interpolate": "monotone"},
   "encoding": {
    "x": {"field": "t", "type": "quantitative", "scale": {"domain": [2012.73, 2052.37], "nice": false, "zero": false}, "axis": {"values": [2013,2016.1667,2019.3333,2022.5,2025.6667,2028.8333,2032,2035.1667,2038.3333,2041.5,2044.6667,2047.8333,2051], "tickCount": 20, "labelExpr": "'' + ceil(datum.value - 0.01)", "labelOverlap": false}, "title": "Time year"},
    "y": {"field": "value", "type": "quantitative", "scale": {"domain": [24.14, 38.35], "nice": false, "zero": false}, "axis": {"values": [26,28,30,32,34,36,38], "tickCount": 10}, "title": null},
    "color": {"field": "series", "type": "nominal", "scale": {"domain": ["TEND_MARc","TEND_MARm","TEND_MARw","TRAN_MARc","TRAN_MARm","TRAN_MARw"], "range": ["#00ff00","#008000","#2e8b57","#cd853f","#ff0000","#8b0000"]}, "legend": {"title": null}}
   }},
  {"data": {"name": "means"},
   "transform": [{"filter": "datum.p == 'b'"}],
   "mark": {"type": "rule", "strokeWidth": 3.5},
   "encoding": {
    "x": {"field": "x0", "type": "quantitative", "title": "Time year"},
    "x2": {"field": "x1"},
    "y": {"field": "m", "type": "quantitative", "title": null},
    "color": {"field": "s", "type": "nominal", "title": null}
   }},
  {"data": {"values": [{"lab": "Sampling location : 52"}]},
   "mark": {"type": "text", "fontSize": 17.5, "align": "center", "baseline": "alphabetic", "color": "#000"},
   "encoding": {"text": {"field": "lab"}, "x": {"datum": 2032.55, "type": "quantitative"}, "y": {"datum": 38.72, "type": "quantitative"}}},
  {"data": {"values": [{"lab": "b)"}]},
   "mark": {"type": "text", "fontSize": 17, "align": "center", "baseline": "middle", "color": "#000"},
   "encoding": {"text": {"field": "lab"}, "x": {"datum": 2011.2, "type": "quantitative"}, "y": {"datum": 38.7, "type": "quantitative"}}}
 ]
},
{
 "width": 337, "height": 411,
 "layer": [
  {"data": {"name": "pc"},
   "transform": [{"fold": ["TEND_MARc","TEND_MARm","TEND_MARw","TRAN_MARc","TRAN_MARm","TRAN_MARw"], "as": ["series","value"]}],
   "mark": {"type": "line", "strokeWidth": 0.75, "opacity": 0.6, "interpolate": "monotone"},
   "encoding": {
    "x": {"field": "t", "type": "quantitative", "scale": {"domain": [2012.69, 2052.01], "nice": false, "zero": false}, "axis": {"values": [2013,2016.1667,2019.3333,2022.5,2025.6667,2028.8333,2032,2035.1667,2038.3333,2041.5,2044.6667,2047.8333,2051], "tickCount": 20, "labelExpr": "'' + ceil(datum.value - 0.01)", "labelOverlap": false}, "title": "Time year"},
    "y": {"field": "value", "type": "quantitative", "scale": {"domain": [43.39, 57.41], "nice": false, "zero": false}, "axis": {"values": [44,46,48,50,52,54,56], "tickCount": 10}, "title": null},
    "color": {"field": "series", "type": "nominal", "scale": {"domain": ["TEND_MARc","TEND_MARm","TEND_MARw","TRAN_MARc","TRAN_MARm","TRAN_MARw"], "range": ["#00ff00","#008000","#2e8b57","#cd853f","#ff0000","#8b0000"]}, "legend": {"title": null}}
   }},
  {"data": {"name": "means"},
   "transform": [{"filter": "datum.p == 'c'"}],
   "mark": {"type": "rule", "strokeWidth": 3.5},
   "encoding": {
    "x": {"field": "x0", "type": "quantitative", "title": "Time year"},
    "x2": {"field": "x1"},
    "y": {"field": "m", "type": "quantitative", "title": null},
    "color": {"field": "s", "type": "nominal", "title": null}
   }},
  {"data": {"values": [{"lab": "Sampling location : 43"}]},
   "mark": {"type": "text", "fontSize": 17.5, "align": "center", "baseline": "alphabetic", "color": "#000"},
   "encoding": {"text": {"field": "lab"}, "x": {"datum": 2032.35, "type": "quantitative"}, "y": {"datum": 57.775, "type": "quantitative"}}},
  {"data": {"values": [{"lab": "c)"}]},
   "mark": {"type": "text", "fontSize": 17, "align": "center", "baseline": "middle", "color": "#000"},
   "encoding": {"text": {"field": "lab"}, "x": {"datum": 2010.36, "type": "quantitative"}, "y": {"datum": 57.81, "type": "quantitative"}}}
 ]
}
]
}
